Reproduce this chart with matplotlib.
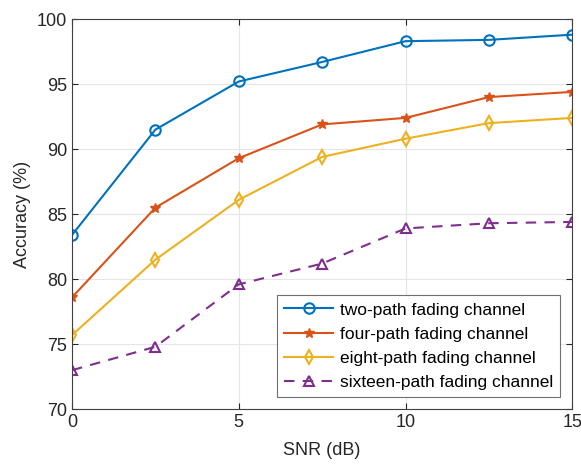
import numpy as np
import matplotlib.pyplot as plt

plt.rcParams['font.family'] = ['Liberation Sans', 'DejaVu Sans']

snr = [0, 2.5, 5, 7.5, 10, 12.5, 15]
acc_two = [83.4, 91.5, 95.2, 96.7, 98.3, 98.4, 98.8]
acc_four = [78.6, 85.5, 89.3, 91.9, 92.4, 94.0, 94.4]
acc_eight = [75.7, 81.5, 86.1, 89.4, 90.8, 92.0, 92.4]
acc_sixteen = [73.0, 74.8, 79.6, 81.2, 83.9, 84.3, 84.4]
labels = ['two-path fading channel', 'four-path fading channel',
          'eight-path fading channel', 'sixteen-path fading channel']

fig = plt.figure(figsize=(5.81, 4.65), dpi=100)
ax = fig.add_axes([0.124, 0.120, 0.861, 0.839])

ax.plot(snr, acc_two, '-o', color='#0072BD', lw=1.5, ms=7.5, mfc='none', mew=1.5, label=labels[0])
ax.plot(snr, acc_four, '-*', color='#D95319', lw=1.5, ms=7.5, mew=1.0, label=labels[1])
ax.plot(snr, acc_eight, '-d', color='#EDB120', lw=1.5, ms=7.5, mfc='none', mew=1.5, label=labels[2])
ax.plot(snr, acc_sixteen, '--^', color='#7E2F8E', lw=1.5, ms=7.5, mfc='none', mew=1.5,
        dashes=(5, 4), label=labels[3])

ax.set_xlim(0, 15)
ax.set_ylim(70, 100)
ax.set_xticks([0, 5, 10, 15])
ax.set_yticks([70, 75, 80, 85, 90, 95, 100])
ax.grid(True, color='#e6e6e6', lw=0.8)
ax.set_axisbelow(True)
ax.tick_params(direction='in', top=True, right=True, labelsize=13, colors='#262626', length=4)
for s in ax.spines.values():
    s.set_color('#404040')
    s.set_linewidth(0.8)
ax.set_xlabel('SNR (dB)', fontsize=13, color='#262626', labelpad=8)
ax.set_ylabel('Accuracy (%)', fontsize=13, color='#262626')

leg = ax.legend(loc='lower right', fontsize=12.5, fancybox=False, edgecolor='#707070',
                framealpha=1, handlelength=2.8, borderaxespad=0.7, labelspacing=0.52,
                handletextpad=0.4, borderpad=0.4)
leg.get_frame().set_linewidth(0.8)

fig.savefig('out.png', dpi=100)
